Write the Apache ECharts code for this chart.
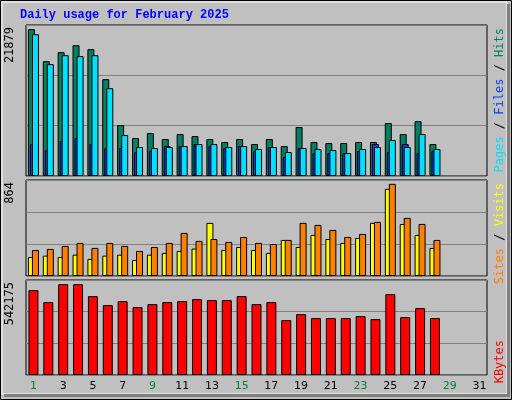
<!DOCTYPE html>
<html>
<head>
<meta charset="utf-8">
<script src="https://cdn.jsdelivr.net/npm/echarts@6/dist/echarts.min.js"></script>
<style>
  html, body { margin: 0; padding: 0; background: #c0c0c0; }
  #chart { width: 512px; height: 400px; }
</style>
</head>
<body>
<div id="chart"></div>
<script>
// day numbers
const days = [];
for (let d = 1; d <= 31; d++) days.push(String(d));
const weekend = ['1', '2', '8', '9', '15', '16', '22', '23', '29', '30'];

const hits = [21879, 17110, 18450, 19490, 18900, 14430, 7590, 5650, 6400, 5510, 6250, 5950, 5510, 5060,
  5510, 4760, 5510, 4460, 7290, 5060, 4910, 4910, 5060, 5060, 7890, 6250, 8180, 4760];
const files = [21130, 16670, 18000, 17860, 18000, 13090, 6100, 4320, 4170, 4320, 4460, 4760, 4760, 4320,
  4460, 4020, 4320, 3570, 4170, 4020, 3870, 3420, 4020, 4320, 5360, 4320, 6250, 4020];
const pages = [4760, 3870, 5210, 5650, 4760, 4170, 4170, 3570, 3720, 4460, 4460, 4760, 4460, 4170,
  4460, 3720, 4320, 2830, 4170, 3420, 3420, 3420, 3720, 4760, 3570, 4760, 3420, 3720];
const visits = [178, 191, 178, 200, 160, 191, 200, 150, 200, 216, 235, 257, 498, 244,
  272, 244, 216, 338, 272, 385, 347, 310, 357, 498, 817, 488, 385, 263];
const sites = [244, 254, 282, 310, 263, 310, 282, 235, 272, 310, 404, 329, 347, 319,
  366, 310, 300, 338, 498, 479, 432, 366, 394, 507, 864, 545, 488, 338];
const kbytes = [506400, 434900, 542175, 542175, 470700, 417100, 440900, 405100, 423000, 434900,
  440900, 452800, 446900, 446900, 470700, 423000, 434900, 327700, 363400, 339600, 339600, 339600,
  351500, 333600, 482600, 345600, 399200, 339600];

const chart = echarts.init(document.getElementById('chart'));

const grids = [
  { left: 26, right: 25, top: 25, height: 151 },
  { left: 26, right: 25, top: 180, height: 96 },
  { left: 26, right: 25, top: 280, height: 95 }
];
const yMax = [22500, 900, 567000];

function xAxis (i) {
  return {
    type: 'category', gridIndex: i, data: days,
    axisLine: { show: false }, axisTick: { show: false },
    axisLabel: i === 2 ? {
      margin: 6, fontSize: 11, fontFamily: 'DejaVu Sans',
      color: (v) => weekend.includes(v) ? '#008040' : '#000000'
    } : { show: false }
  };
}
function yAxis (i) {
  return {
    type: 'value', gridIndex: i, min: 0, max: yMax[i], interval: yMax[i] / 3,
    axisLabel: { show: false }, axisLine: { show: false }, axisTick: { show: false },
    splitLine: { lineStyle: { color: '#808080', width: 1 } }
  };
}
function bar (name, data, color, idx, width, gap) {
  return {
    name, type: 'bar', data, xAxisIndex: idx, yAxisIndex: idx,
    barWidth: width, barGap: gap, animation: false,
    itemStyle: { color, borderColor: '#000000', borderWidth: 1 }
  };
}

function sideText (x, y, rich, text) {
  return {
    type: 'text', x, y, rotation: Math.PI / 2,
    style: { text, rich, font: '12px "DejaVu Sans Mono"', align: 'right', verticalAlign: 'middle' }
  };
}

chart.setOption({
  backgroundColor: '#c0c0c0',
  grid: grids.map((g) => Object.assign({ show: true, backgroundColor: '#c0c0c0', borderColor: '#000000', borderWidth: 1 }, g)),
  xAxis: [xAxis(0), xAxis(1), xAxis(2)],
  yAxis: [yAxis(0), yAxis(1), yAxis(2)],
  series: [
    bar('Hits', hits, '#008060', 0, 7, '-71%'),
    bar('Pages', pages, '#0040ff', 0, 7, '-71%'),
    bar('Files', files, '#00e0ff', 0, 7, '-71%'),
    bar('Visits', visits, '#ffff00', 1, 7, '-43%'),
    bar('Sites', sites, '#ff8000', 1, 7, '-43%'),
    bar('KBytes', kbytes, '#ff0000', 2, 10, '0%')
  ],
  graphic: [
    { type: 'rect', shape: { x: 0.5, y: 0.5, width: 511, height: 399 }, style: { fill: null, stroke: '#000000', lineWidth: 1 } },
    { type: 'rect', shape: { x: 2, y: 2, width: 505, height: 392 }, style: { fill: null, stroke: '#ffffff', lineWidth: 1 } },
    { type: 'rect', shape: { x: 507, y: 4, width: 3, height: 393 }, style: { fill: '#808080' } },
    { type: 'rect', shape: { x: 4, y: 394, width: 506, height: 3 }, style: { fill: '#808080' } },
    { type: 'text', x: 20, y: 9, style: { text: 'Daily usage for February 2025', font: 'bold 12px "Liberation Mono"', fill: '#0000ff' } },
    { type: 'text', x: 10, y: 27, rotation: Math.PI / 2, style: { text: '21879', font: '12px "DejaVu Sans Mono"', fill: '#000000', align: 'right', verticalAlign: 'middle' } },
    { type: 'text', x: 10, y: 182, rotation: Math.PI / 2, style: { text: '864', font: '12px "DejaVu Sans Mono"', fill: '#000000', align: 'right', verticalAlign: 'middle' } },
    { type: 'text', x: 10, y: 282, rotation: Math.PI / 2, style: { text: '542175', font: '12px "DejaVu Sans Mono"', fill: '#000000', align: 'right', verticalAlign: 'middle' } },
    sideText(500, 28, { p: { fill: '#00e0ff' }, s: { fill: '#000000' }, f: { fill: '#0040ff' }, h: { fill: '#008060' } },
      '{p|Pages}{s| / }{f|Files}{s| / }{h|Hits}'),
    sideText(500, 183, { v: { fill: '#ffff00' }, s: { fill: '#000000' }, t: { fill: '#ff8000' } },
      '{t|Sites}{s| / }{v|Visits}'),
    sideText(500, 340, { k: { fill: '#ff0000' } }, '{k|KBytes}')
  ]
});
</script>
</body>
</html>
